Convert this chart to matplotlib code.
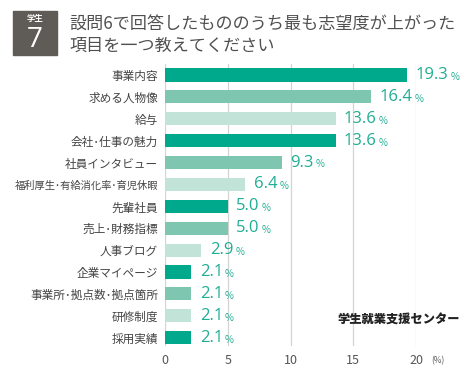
import matplotlib.pyplot as plt
import numpy as np

plt.rcParams['font.family'] = ['Noto Sans CJK JP', 'DejaVu Sans']

categories = ['事業内容', '求める人物像', '給与', '会社･仕事の魅力', '社員インタビュー',
              '福利厚生･有給消化率･育児休暇', '先輩社員', '売上･財務指標', '人事ブログ',
              '企業マイページ', '事業所･拠点数･拠点箇所', '研修制度', '採用実績']
values = [19.3, 16.4, 13.6, 13.6, 9.3, 6.4, 5.0, 5.0, 2.9, 2.1, 2.1, 2.1, 2.1]
xticks = [0, 5, 10, 15, 20]

shades = ['#00a98b', '#7fc6b1', '#c2e3d8']
bar_colors = [shades[i % 3] for i in range(len(values))]
label_color = '#1fae93'

fig = plt.figure(figsize=(4.72, 3.72), dpi=100)
ax = fig.add_axes([165 / 472, 1 - 346 / 372, (416 - 165) / 472, (346 - 64) / 372])

y = np.arange(len(values))
ax.barh(y, values, height=0.6, color=bar_colors, zorder=2)
ax.set_xlim(0, 20)
ax.set_ylim(12.38, -0.5)

for x in xticks:
    ax.axvline(x, color='#d4d4d4', lw=0.9, zorder=1)

for yi, v in zip(y, values):
    t = ax.annotate(f'{v:.1f}', (v, yi), xytext=(6, 0), textcoords='offset points',
                    ha='left', va='center', fontsize=12, color=label_color,
                    family=['Open Sans', 'DejaVu Sans'])
    ax.annotate('%', (1, 0.38), xycoords=t, xytext=(1.5, 0), textcoords='offset points',
                ha='left', va='center', fontsize=7, color=label_color)

ax.set_yticks(y)
ax.set_yticklabels(categories, fontsize=8.4, color='#444444')
for lbl in ax.get_yticklabels():
    if len(lbl.get_text()) > 12:
        lbl.set_fontsize(7.4)
ax.set_xticks(xticks)
ax.set_xticklabels([str(t) for t in xticks], fontsize=9, color='#555555')
ax.tick_params(length=0, pad=5)
ax.tick_params(axis='x', pad=6)
for s in ax.spines.values():
    s.set_visible(False)

fig.text(438 / 472, 1 - 361 / 372, '(%)', fontsize=6, color='#555555', ha='center', va='center')

# title box
fig.patches.append(plt.Rectangle((13 / 472, 1 - 55 / 372), 44 / 472, 44 / 372,
                                 transform=fig.transFigure, color='#5f5b56'))
fig.text(35 / 472, 1 - 19 / 372, '学生', fontsize=6, color='white', ha='center', va='center',
         fontweight='bold')
fig.text(35 / 472, 1 - 40 / 372, '7', fontsize=20, color='white', ha='center', va='center',
         family=['Open Sans', 'DejaVu Sans'])
fig.text(69 / 472, 1 - 24 / 372, '設問6で回答したもののうち最も志望度が上がった', fontsize=12.3,
         color='#505050', ha='left', va='center')
fig.text(69 / 472, 1 - 46 / 372, '項目を一つ教えてください', fontsize=12.3,
         color='#505050', ha='left', va='center')

fig.text(399 / 472, 1 - 320 / 372, '学生就業支援センター', fontsize=8.8, color='#222222',
         ha='center', va='center', fontweight='heavy', style='italic')

fig.savefig('out.png', dpi=100, facecolor='white')
